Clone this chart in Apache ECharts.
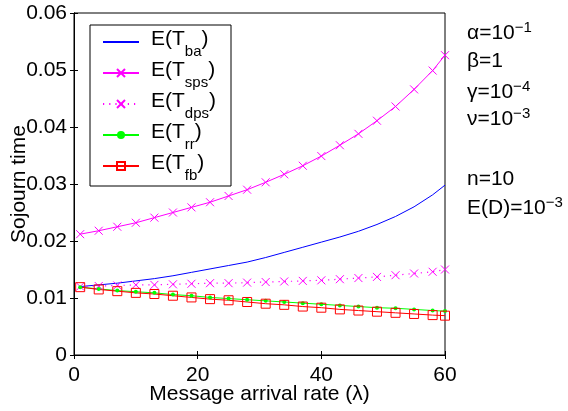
<!DOCTYPE html>
<html><head><meta charset="utf-8">
<script src="https://cdn.jsdelivr.net/npm/echarts@6/dist/echarts.min.js"></script>
<style>html,body{margin:0;padding:0;background:#fff}#c{width:568px;height:411px}</style>
</head><body><div id="c"></div>
<script>
// λ values where points are plotted
const lambda = [1,4,7,10,13,16,19,22,25,28,31,34,37,40,43,46,49,52,55,58,60];
const tBa  = [0.0120,0.0123,0.0126,0.0130,0.0134,0.0139,0.0145,0.0151,0.0157,0.0163,0.0171,0.0180,0.0189,0.0198,0.0207,0.0217,0.0229,0.0243,0.0260,0.0281,0.0298];
const tSps = [0.0212,0.0218,0.0225,0.0232,0.0241,0.0250,0.0259,0.0268,0.0279,0.0290,0.0303,0.0317,0.0332,0.0349,0.0368,0.0388,0.0411,0.0436,0.0466,0.0499,0.0526];
const tDps = [0.0120,0.0121,0.0122,0.0123,0.0123,0.0124,0.0125,0.0126,0.0126,0.0127,0.0128,0.0129,0.0130,0.0131,0.0133,0.0135,0.0137,0.0140,0.0143,0.0146,0.0150];
const tRr  = [0.0119,0.0116,0.0113,0.0111,0.0109,0.0106,0.0104,0.0101,0.0099,0.0097,0.0095,0.0093,0.0091,0.0089,0.0087,0.0085,0.0083,0.0082,0.0080,0.0078,0.0077];
const tFb  = [0.0119,0.0115,0.0112,0.0109,0.0107,0.0104,0.0101,0.0098,0.0096,0.0093,0.0090,0.0088,0.0085,0.0083,0.0080,0.0078,0.0076,0.0074,0.0072,0.0070,0.0069];
const seriesNames = ['ba','sps','dps','rr','fb'];
const xAxisInfo = {min:0, max:60, interval:20, name:'Message arrival rate (λ)'};
const yAxisInfo = {min:0, max:0.06, interval:0.01, name:'Sojourn time'};
const params = [
  '{m|α=10}{s|−1}',
  '{m|β=1}',
  '{m|γ=10}{s|−4}',
  '{m|ν=10}{s|−3}',
  '{m|n=10}',
  '{m|E(D)=10}{s|−3}'
];

const FONT = 'Liberation Sans, Arial, Helvetica, sans-serif';
const FS = 21, FSS = 15;
const pair = (ys) => lambda.map((x,i)=>[x, ys[i]]);
const xPath = 'path://M0,0L10,10M10,0L0,10';

const chart = echarts.init(document.getElementById('c'), null, {renderer:'canvas'});
const legendRich = {
  m: {fontSize:FS, fontFamily:FONT, color:'#000', lineHeight:24, verticalAlign:'top'},
  s: {fontSize:FSS, fontFamily:FONT, color:'#000', lineHeight:15, verticalAlign:'top', padding:[15,0,0,0]}
};
const axisCommon = {
  axisLine:{show:true, lineStyle:{color:'#000', width:1}},
  axisTick:{show:true, inside:true, length:4, lineStyle:{color:'#000'}},
  splitLine:{show:false}
};
const option = {
  animation:false,
  backgroundColor:'#fff',
  grid:{left:74, right:123, top:13, bottom:56, show:true, borderColor:'#000', borderWidth:1,
    backgroundColor:'transparent', containLabel:false, outerBoundsMode:'none'},
  xAxis:[
    Object.assign({type:'value', position:'bottom', min:xAxisInfo.min, max:xAxisInfo.max, interval:xAxisInfo.interval,
      name:xAxisInfo.name, nameLocation:'middle', nameGap:29, nameMoveOverlap:false,
      nameTextStyle:{fontSize:FS, fontFamily:FONT, color:'#000'},
      axisLabel:{fontSize:FS, fontFamily:FONT, color:'#000', margin:10}}, axisCommon),
    Object.assign({type:'value', position:'top', min:xAxisInfo.min, max:xAxisInfo.max, interval:xAxisInfo.interval,
      axisLabel:{show:false}}, axisCommon)
  ],
  yAxis:[
    Object.assign({type:'value', position:'left', min:yAxisInfo.min, max:yAxisInfo.max, interval:yAxisInfo.interval,
      name:yAxisInfo.name, nameLocation:'middle', nameGap:44, nameMoveOverlap:false,
      nameTextStyle:{fontSize:FS, fontFamily:FONT, color:'#000'},
      axisLabel:{fontSize:FS, fontFamily:FONT, color:'#000', margin:7,
        formatter:(v)=> v===0 ? '0' : v.toFixed(2)}}, axisCommon),
    Object.assign({type:'value', position:'right', min:yAxisInfo.min, max:yAxisInfo.max, interval:yAxisInfo.interval,
      axisLabel:{show:false}}, axisCommon)
  ],
  legend:{
    orient:'vertical', left:90, top:25, itemWidth:36, itemHeight:10, itemGap:1,
    padding:[4,15,3,12], borderColor:'#000', borderWidth:1, backgroundColor:'#fff',
    data:[{name:'ba', itemStyle:{opacity:0}}, 'sps', 'dps', 'rr', 'fb'],
    formatter:(n)=> '{m|E(T}{s|'+n+'}{m|)}',
    textStyle:{rich:legendRich, padding:[3,0,5,7]}
  },
  series:[
    {name:'ba', type:'line', data:pair(tBa), symbol:'none', lineStyle:{color:'#0000ff', width:1}, itemStyle:{color:'#0000ff'}},
    {name:'sps', type:'line', data:pair(tSps), symbol:xPath, symbolSize:8,
      lineStyle:{color:'#ff00ff', width:1}, itemStyle:{color:'none', borderColor:'#ff00ff', borderWidth:1}},
    {name:'dps', type:'line', data:pair(tDps), symbol:xPath, symbolSize:8,
      lineStyle:{color:'#ff00ff', width:1.2, type:[1.2,5]}, itemStyle:{color:'none', borderColor:'#ff00ff', borderWidth:1}},
    {name:'rr', type:'line', data:pair(tRr), symbol:'circle', symbolSize:4,
      lineStyle:{color:'#00ff00', width:1}, itemStyle:{color:'#00ff00', borderWidth:0}},
    {name:'fb', type:'line', data:pair(tFb), symbol:'rect', symbolSize:9,
      lineStyle:{color:'#ff0000', width:1}, itemStyle:{color:'none', borderColor:'#ff0000', borderWidth:1}}
  ],
  graphic: params.map((p,i)=>({
    type:'text', left:467, top:[20,48,79,106,166,195][i],
    style:{text:p, rich:{
      m:{fontSize:FS, fontFamily:FONT, fill:'#000', lineHeight:24, verticalAlign:'top', padding:[3,0,0,0]},
      s:{fontSize:FSS, fontFamily:FONT, fill:'#000', lineHeight:15, verticalAlign:'top'}
    }}
  }))
};
chart.setOption(option);
</script>
</body></html>
